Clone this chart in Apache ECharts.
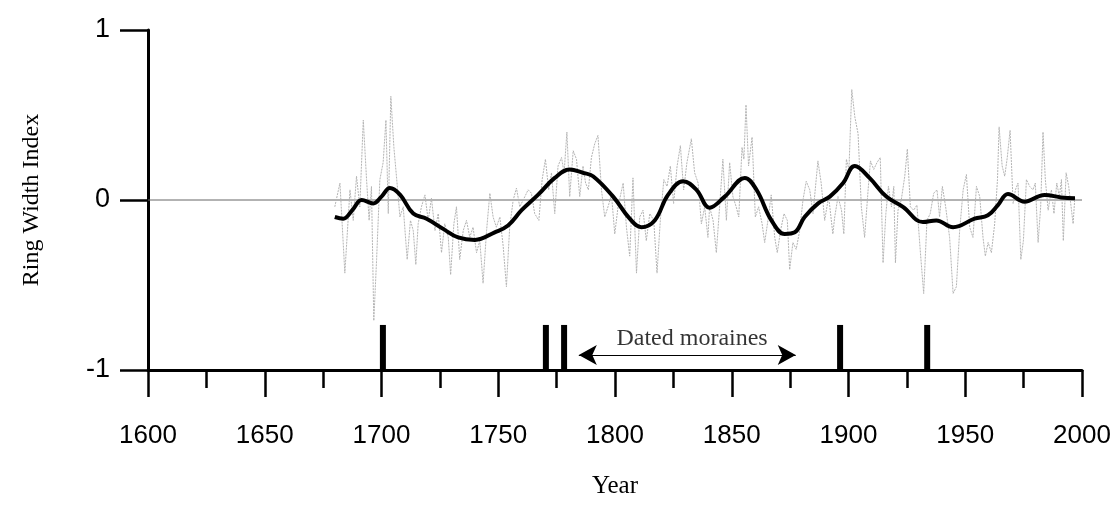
<!DOCTYPE html>
<html>
<head>
<meta charset="utf-8">
<script src="https://cdn.jsdelivr.net/npm/echarts@6/dist/echarts.min.js"></script>
<style>html,body{margin:0;padding:0;background:#fff}#c{width:1114px;height:508px}</style>
</head>
<body>
<div id="c"></div>
<script>
// Annual ring width index ([year, index])
const annualIndex = [
[1680,-0.04],[1682.2,0.10],[1684.3,-0.43],[1686.5,0.06],[1687.9,-0.12],[1689.3,0.14],[1690.7,-0.04],[1692.2,0.47],[1693.6,0.12],[1694.7,-0.12],[1695.7,0.08],[1696.7,-0.71],[1697.9,-0.35],[1699.3,0.12],[1700.7,0.22],[1701.9,0.47],[1702.9,-0.08],[1704.0,0.61],[1705.3,0.31],[1706.4,0.14],[1707.9,-0.10],[1709.3,-0.04],[1711.0,-0.35],[1712.4,-0.12],[1713.6,-0.18],[1714.7,-0.38],[1715.7,-0.14],[1717.1,-0.04],[1718.6,0.03],[1720.0,-0.12],[1721.4,0.01],[1722.9,-0.18],[1724.3,-0.08],[1725.7,-0.31],[1727.1,-0.14],[1728.6,-0.22],[1729.6,-0.44],[1731.0,-0.14],[1732.1,-0.04],[1733.5,-0.35],[1735.0,-0.18],[1736.4,-0.12],[1737.8,-0.22],[1739.2,-0.16],[1740.7,-0.31],[1742.1,-0.24],[1743.5,-0.49],[1745.0,-0.18],[1746.4,0.04],[1747.8,-0.10],[1749.2,-0.16],[1750.7,-0.10],[1752.1,-0.27],[1753.5,-0.51],[1754.9,-0.16],[1756.4,0.0],[1757.8,0.07],[1759.2,-0.04],[1761.4,0.02],[1762.8,0.06],[1764.2,0.04],[1765.6,-0.08],[1767.4,-0.12],[1768.8,0.12],[1770.2,0.24],[1771.6,0.06],[1772.8,0.16],[1774.2,-0.08],[1775.6,0.20],[1777.1,0.25],[1778.2,0.16],[1779.4,0.40],[1780.6,0.02],[1782.1,0.29],[1783.5,0.24],[1784.9,0.02],[1786.3,0.20],[1787.4,0.10],[1788.6,0.06],[1789.9,0.25],[1791.3,0.33],[1792.7,0.38],[1794.2,0.06],[1795.6,-0.10],[1797.0,-0.04],[1798.5,0.03],[1799.9,-0.20],[1801.3,-0.04],[1803.5,0.10],[1804.9,-0.16],[1806.3,-0.33],[1807.7,0.13],[1809.2,-0.43],[1810.6,-0.10],[1812.0,-0.06],[1813.4,-0.24],[1814.9,-0.08],[1816.6,-0.12],[1818.0,-0.43],[1819.4,-0.12],[1820.9,0.12],[1822.3,0.08],[1823.7,0.20],[1825.1,-0.02],[1826.6,0.20],[1828.0,0.32],[1829.4,0.06],[1830.8,0.22],[1832.7,0.36],[1834.1,0.16],[1835.6,0.10],[1837.0,-0.14],[1838.4,-0.04],[1839.8,-0.22],[1840.5,-0.04],[1842.0,-0.12],[1843.4,-0.31],[1844.8,-0.04],[1846.2,0.24],[1847.7,-0.12],[1849.1,0.22],[1850.5,0.02],[1851.9,-0.04],[1853.0,-0.10],[1854.4,0.31],[1855.2,0.24],[1856.1,0.56],[1857.2,0.20],[1858.7,0.37],[1860.1,-0.10],[1861.5,-0.04],[1863.0,-0.14],[1864.1,-0.25],[1865.5,-0.12],[1866.9,0.03],[1868.4,-0.22],[1869.5,-0.31],[1870.9,-0.18],[1872.4,-0.08],[1873.8,-0.12],[1874.8,-0.41],[1876.2,-0.25],[1877.6,-0.29],[1879.1,-0.18],[1880.5,0.0],[1881.9,0.11],[1883.4,0.06],[1884.8,-0.08],[1886.9,0.23],[1888.3,0.10],[1889.8,-0.12],[1891.5,0.02],[1893.3,-0.20],[1894.1,-0.10],[1895.5,0.02],[1897.0,-0.06],[1898.0,-0.20],[1899.1,0.24],[1900.2,0.18],[1901.4,0.65],[1902.7,0.49],[1904.1,0.39],[1905.5,-0.04],[1906.9,-0.22],[1908.4,0.06],[1909.4,0.23],[1910.8,0.18],[1912.2,0.22],[1913.6,0.25],[1914.8,-0.37],[1916.0,-0.08],[1917.1,0.08],[1918.4,-0.04],[1919.4,0.08],[1920.1,-0.37],[1921.2,-0.06],[1922.6,0.0],[1924.1,0.14],[1925.2,0.30],[1926.5,-0.04],[1927.9,-0.06],[1929.3,-0.03],[1930.8,-0.31],[1932.2,-0.55],[1933.6,-0.12],[1935.0,-0.08],[1936.5,0.04],[1937.9,0.06],[1939.0,-0.10],[1940.2,0.08],[1941.6,-0.04],[1943.3,-0.22],[1944.8,-0.55],[1946.2,-0.51],[1947.6,-0.18],[1949.1,0.06],[1950.5,0.15],[1951.9,-0.16],[1953.3,-0.22],[1954.8,0.08],[1956.2,0.02],[1957.6,-0.22],[1958.6,-0.33],[1959.8,-0.25],[1961.2,-0.31],[1962.6,-0.14],[1963.8,0.12],[1964.5,0.43],[1965.8,0.20],[1966.9,0.14],[1968.0,0.25],[1969.2,0.41],[1970.5,-0.02],[1971.5,0.06],[1972.6,0.10],[1973.8,-0.35],[1974.9,-0.24],[1976.2,0.12],[1977.6,0.08],[1979.0,0.06],[1980.0,0.10],[1981.2,-0.25],[1982.3,-0.04],[1983.3,0.40],[1984.3,0.12],[1985.5,-0.06],[1986.9,0.06],[1988.0,-0.08],[1989.2,0.10],[1990.3,0.02],[1991.2,0.12],[1992.0,-0.24],[1993.2,0.16],[1994.3,0.08],[1995.5,-0.06],[1996.2,-0.14],[1996.9,0.01]
];
// Smoothed curve
const smoothIndex = [
[1680,-0.10],[1683.6,-0.11],[1687.5,-0.06],[1691.5,0.0],[1696.5,-0.02],[1700,0.02],[1703.6,0.07],[1708,0.03],[1713.6,-0.08],[1719.3,-0.11],[1726.4,-0.17],[1732.8,-0.22],[1740,-0.235],[1748.5,-0.19],[1754.2,-0.15],[1760,-0.06],[1767,0.03],[1774.2,0.13],[1780.6,0.18],[1786.3,0.16],[1790.6,0.14],[1799.2,0.02],[1806.3,-0.11],[1811.3,-0.16],[1817,-0.12],[1822.7,0.03],[1829.2,0.11],[1834.9,0.06],[1840.5,-0.045],[1847,0.02],[1855.6,0.13],[1860.6,0.06],[1867,-0.12],[1872.7,-0.20],[1877,-0.19],[1881.2,-0.10],[1887,-0.02],[1892,0.02],[1897.7,0.10],[1902.7,0.20],[1909,0.13],[1916.2,0.02],[1923.3,-0.04],[1931.9,-0.13],[1937.6,-0.12],[1944.8,-0.16],[1954,-0.11],[1959.7,-0.09],[1964,-0.03],[1968.3,0.035],[1975.4,-0.01],[1984,0.03],[1991.1,0.015],[1997,0.01]
];
// Dated moraine years
const moraineYears = [1700.6, 1770.4, 1778.2, 1896.4, 1933.7];
const moraineTop = -0.735;
const arrowSpan = [1784.5, 1877.4];
const arrowY = -0.912;
const arrowLabel = 'Dated moraines';
const arrowLabelPos = [1833, -0.815];
const xTicks = { min: 1600, max: 2000, interval: 50 };
const yTicks = { min: -1, max: 1, interval: 1 };

const chart = echarts.init(document.getElementById('c'), null, {renderer: 'canvas'});
chart.setOption({
  animation: false,
  backgroundColor: '#fff',
  grid: { left: 148, right: 32, top: 30, bottom: 138, containLabel: false, outerBoundsMode: 'none' },
  xAxis: {
    type: 'value', min: xTicks.min, max: xTicks.max, interval: xTicks.interval,
    name: 'Year', nameLocation: 'middle', nameGap: 104,
    nameTextStyle: { fontFamily: 'Liberation Serif', fontSize: 25, color: '#000' },
    axisLine: { show: true, onZero: false, lineStyle: { color: '#000', width: 3 } },
    axisTick: { show: true, length: 27, lineStyle: { color: '#000', width: 2.5 } },
    minorTick: { show: true, splitNumber: 2, length: 18, lineStyle: { color: '#000', width: 2.5 } },
    axisLabel: { margin: 53, fontFamily: 'Liberation Sans', fontSize: 26, color: '#000',
      formatter: v => String(v) },
    splitLine: { show: false }
  },
  yAxis: {
    type: 'value', min: yTicks.min, max: yTicks.max, interval: yTicks.interval,
    name: 'Ring Width Index', nameLocation: 'middle', nameGap: 104, nameRotate: 90,
    nameTextStyle: { fontFamily: 'Liberation Serif', fontSize: 24, color: '#000' },
    axisLine: { show: true, onZero: false, lineStyle: { color: '#000', width: 3 } },
    axisTick: { show: true, length: 28, lineStyle: { color: '#000', width: 2.5 } },
    axisLabel: { margin: 38, fontFamily: 'Liberation Sans', fontSize: 27, color: '#000',
      formatter: v => String(v) },
    splitLine: { show: false }
  },
  series: [
    {
      type: 'line', data: [[xTicks.min, 0], [xTicks.max, 0]], symbol: 'none', silent: true,
      lineStyle: { color: '#666', width: 1 }, z: 1
    },
    {
      type: 'line', data: annualIndex, symbol: 'none',
      lineStyle: { color: '#b4b4b4', width: 1, type: [2, 1] }, z: 2
    },
    {
      type: 'line', data: smoothIndex, symbol: 'none', smooth: 0.4,
      lineStyle: { color: '#000', width: 4 }, z: 3
    },
    {
      type: 'custom', z: 4,
      data: moraineYears.map(y => [y, moraineTop]),
      renderItem: function (params, api) {
        const top = api.coord([api.value(0), api.value(1)]);
        const bot = api.coord([api.value(0), yTicks.min]);
        return { type: 'rect', shape: { x: top[0] - 3, y: top[1], width: 6, height: bot[1] - top[1] }, style: { fill: '#000' } };
      }
    },
    {
      type: 'scatter', symbolSize: 0, data: [arrowLabelPos], z: 5,
      label: { show: true, position: 'inside', formatter: arrowLabel, fontFamily: 'Liberation Serif', fontSize: 24, color: '#000' },
      markLine: {
        silent: true, symbol: ['arrow', 'arrow'], symbolSize: [15, 18],
        label: { show: false },
        lineStyle: { color: '#000', width: 1, type: 'solid' },
        data: [[{ coord: [arrowSpan[0], arrowY] }, { coord: [arrowSpan[1], arrowY] }]]
      }
    }
  ]
});
</script>
</body>
</html>
